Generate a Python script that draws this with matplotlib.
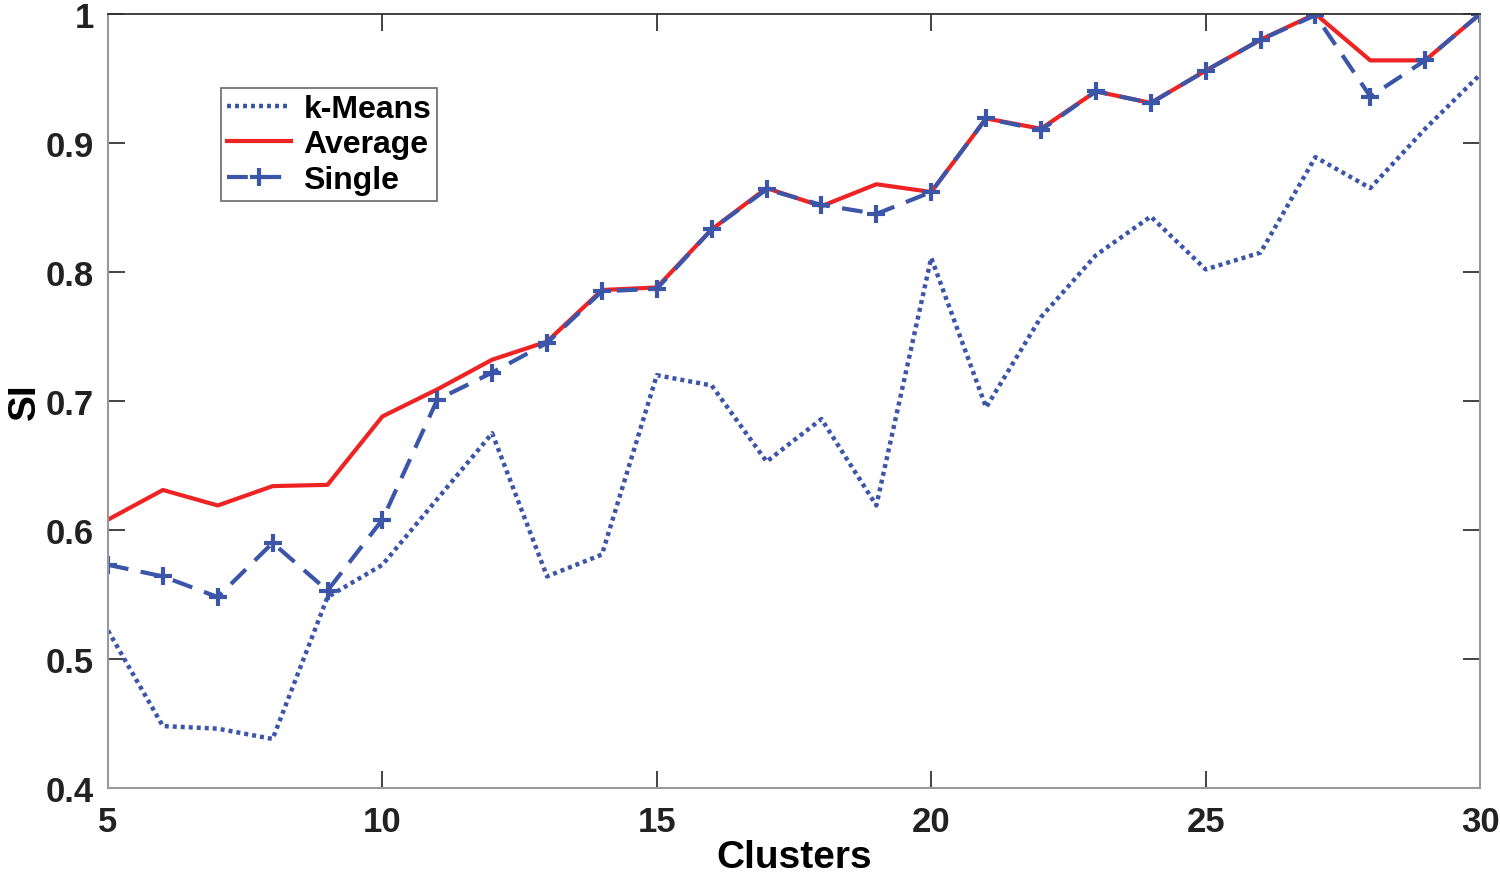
import matplotlib
matplotlib.use('Agg')
import matplotlib.pyplot as plt

plt.rcParams['font.family'] = ['Liberation Sans', 'DejaVu Sans']
plt.rcParams['font.weight'] = 'bold'

clusters = list(range(5, 31))
kmeans = [0.522, 0.448, 0.446, 0.438, 0.548, 0.573, 0.624, 0.675, 0.564, 0.581,
          0.720, 0.712, 0.653, 0.686, 0.619, 0.811, 0.695, 0.765, 0.813, 0.843,
          0.802, 0.815, 0.889, 0.865, 0.911, 0.953]
average = [0.608, 0.631, 0.619, 0.634, 0.635, 0.688, 0.709, 0.732, 0.746, 0.786,
           0.788, 0.833, 0.865, 0.851, 0.868, 0.862, 0.919, 0.911, 0.940, 0.931,
           0.956, 0.980, 1.000, 0.964, 0.964, 1.000]
single = [0.573, 0.564, 0.548, 0.590, 0.553, 0.608, 0.701, 0.722, 0.745, 0.785,
          0.787, 0.833, 0.864, 0.852, 0.845, 0.862, 0.919, 0.910, 0.940, 0.931,
          0.956, 0.980, 0.999, 0.936, 0.964, 1.000]

blue = '#3b55a8'
red = '#ee2424'

fig = plt.figure(figsize=(15, 8.79), dpi=100)
ax = fig.add_axes([0.072, 0.1024, 0.9147, 0.8806])

ax.plot(clusters, kmeans, linestyle=(0, (0.9, 0.9)), color=blue, linewidth=3.2, label='k-Means')
ax.plot(clusters, average, '-', color=red, linewidth=3.0, label='Average')
ax.plot(clusters, single, linestyle=(0, (5, 3)), color=blue, linewidth=3.0,
        marker='+', markersize=13, markeredgewidth=3, label='Single')

ax.set_xlim(5, 30)
ax.set_ylim(0.4, 1.0)
ax.set_xticks([5, 10, 15, 20, 25, 30])
ax.set_yticks([0.4, 0.5, 0.6, 0.7, 0.8, 0.9, 1.0])
ax.set_yticklabels(['0.4', '0.5', '0.6', '0.7', '0.8', '0.9', '1'])
ax.tick_params(direction='in', length=12, width=1.2, labelsize=25, colors='#222222',
               top=True, right=True)
ax.tick_params(axis='x', pad=12)
ax.tick_params(axis='y', pad=10)
for lab in ax.get_xticklabels() + ax.get_yticklabels():
    lab.set_fontweight('bold')
for side in ['left', 'bottom', 'right']:
    ax.spines[side].set_color('#999999')
    ax.spines[side].set_linewidth(1.5)
ax.spines['top'].set_color('#333333')
ax.spines['top'].set_linewidth(1.3)

ax.set_xlabel('Clusters', fontsize=28, fontweight='bold', labelpad=1)
ax.set_ylabel('SI', fontsize=28, fontweight='bold', labelpad=2)

leg = ax.legend(loc='upper left', bbox_to_anchor=(0.0824, 0.904), fontsize=23,
                frameon=True, fancybox=False, handlelength=2.0, borderpad=0.18,
                labelspacing=0.17, handletextpad=0.4, borderaxespad=0)
leg.get_frame().set_edgecolor('#444444')
leg.get_frame().set_linewidth(1.2)
for t in leg.get_texts():
    t.set_fontweight('bold')

fig.savefig('out.png', dpi=100)
